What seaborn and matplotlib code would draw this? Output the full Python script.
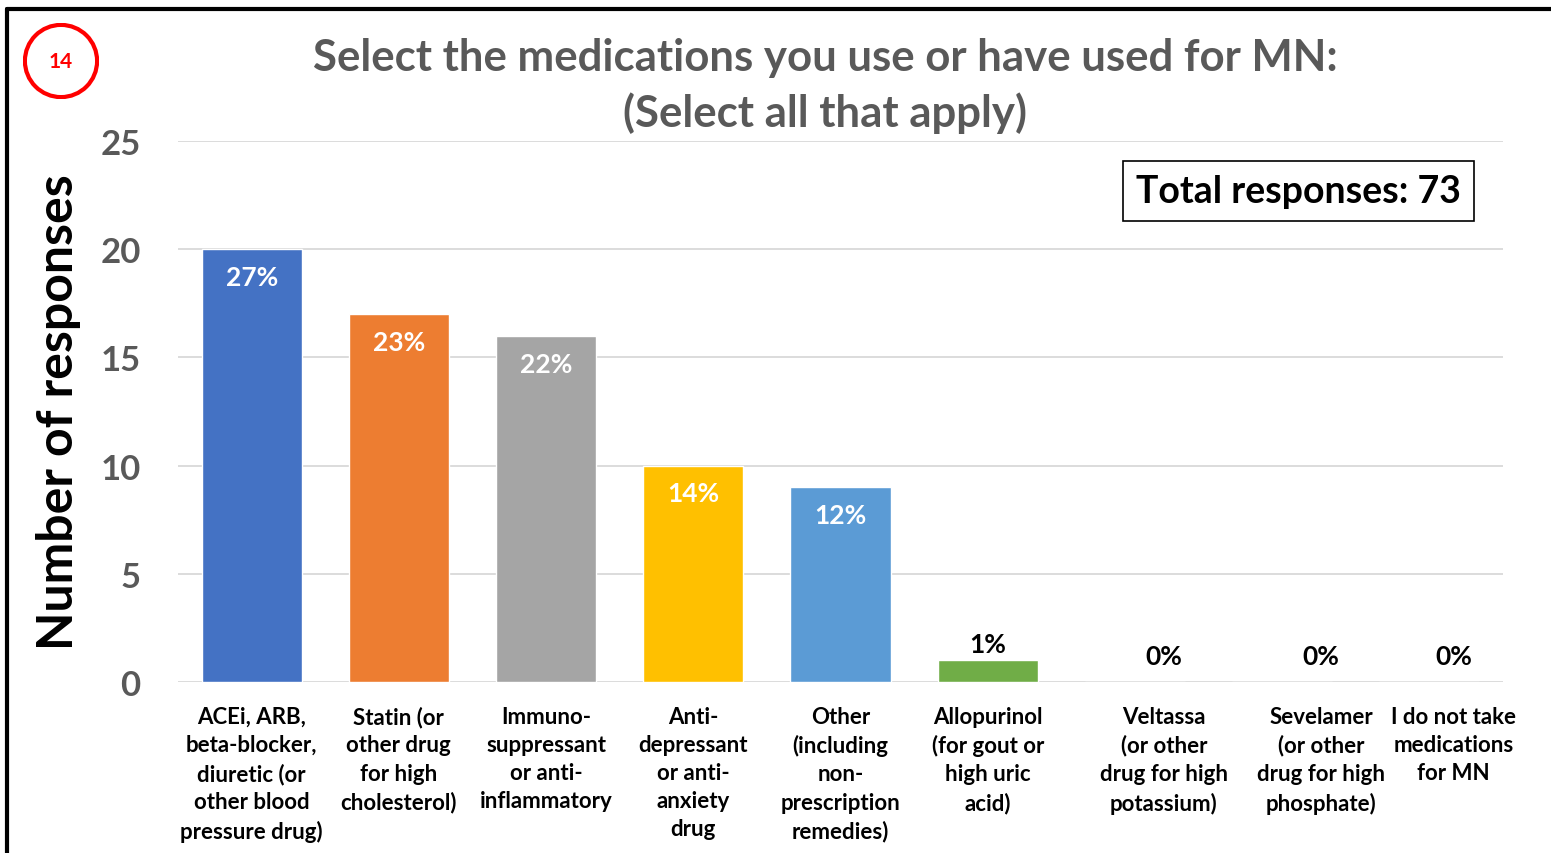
import matplotlib
matplotlib.use("Agg")
import matplotlib.pyplot as plt
import matplotlib.transforms as mtransforms
from matplotlib.patches import Circle
import seaborn as sns
import pandas as pd

categories = [
    "ACEi, ARB,\nbeta-blocker,\ndiuretic (or\nother blood\npressure drug)",
    "Statin (or\nother drug\nfor high\ncholesterol)",
    "Immuno-\nsuppressant\nor anti-\ninflammatory",
    "Anti-\ndepressant\nor anti-\nanxiety\ndrug",
    "Other\n(including\nnon-\nprescription\nremedies)",
    "Allopurinol\n(for gout or\nhigh uric\nacid)",
    "Veltassa\n(or other\ndrug for high\npotassium)",
    "Sevelamer\n(or other\ndrug for high\nphosphate)",
    "I do not take\nmedications\nfor MN",
]
responses = [20, 17, 16, 10, 9, 1, 0, 0, 0]
pct_labels = ["27%", "23%", "22%", "14%", "12%", "1%", "0%", "0%", "0%"]
colors = ["#4472C4", "#ED7D31", "#A5A5A5", "#FFC000", "#5B9BD5", "#70AD47",
          "#4472C4", "#ED7D31", "#A5A5A5"]
yticks = [0, 5, 10, 15, 20, 25]
title = "Select the medications you use or have used for MN:\n(Select all that apply)"
total_text = "Total responses: 73"
badge = "14"

sns.set_theme(style="white")
plt.rcParams["font.family"] = ["Lato", "DejaVu Sans"]

df = pd.DataFrame({"cat": categories, "n": responses})

fig = plt.figure(figsize=(15.51, 8.54), dpi=100)
ax = fig.add_axes([0.1148, 0.2002, 0.969 - 0.1148, 0.8337 - 0.2002])

sns.barplot(data=df, x="cat", y="n", hue="cat", palette=colors, legend=False,
            width=0.68, ax=ax, saturation=1)

ax.set_ylim(0, 25)
ax.set_yticks(yticks)
ax.set_xlim(-0.5, len(categories) - 0.5)
ax.yaxis.grid(True, color="#D9D9D9", linewidth=1.3)
ax.set_axisbelow(True)
for s in ax.spines.values():
    s.set_visible(False)
ax.tick_params(axis="y", length=0, pad=27, labelsize=25, labelcolor="#595959")
ax.tick_params(axis="x", length=0, pad=17, labelsize=16, labelcolor="black")
for t in ax.get_yticklabels():
    t.set_fontweight("bold")
x_offsets = [0, 0, 0, 0, 0, 0, 29, 39, 24]
for t, dx in zip(ax.get_xticklabels(), x_offsets):
    t.set_fontweight("bold")
    t.set_linespacing(1.42)
    if dx:
        t.set_transform(t.get_transform() + mtransforms.ScaledTranslation(dx / 100, 0, fig.dpi_scale_trans))
ax.set_xlabel("")
ax.set_ylabel("Number of responses", fontsize=36, fontweight="bold", color="black", labelpad=14)

for i, (v, lab) in enumerate(zip(responses, pct_labels)):
    if v >= 5:
        ax.annotate(lab, (i, v), xytext=(0, -20), textcoords="offset points",
                    ha="center", va="center", color="white", fontsize=19, fontweight="bold")
    else:
        ax.annotate(lab, (i + x_offsets[i] / 147.2, v), xytext=(0, 12 if v > 0 else 19),
                    textcoords="offset points", ha="center", va="center",
                    color="black", fontsize=19, fontweight="bold")

fig.text(0.532, 0.899, title, ha="center", va="center", fontsize=31.5, fontweight="bold",
         color="#595959", linespacing=1.42)

fig.text(0.837, 0.775, total_text, ha="center", va="center", fontsize=27, fontweight="bold",
         color="black",
         bbox=dict(boxstyle="square,pad=0.35", facecolor="white", edgecolor="black", linewidth=1.2))

# badge
badge_ax = fig.add_axes([(61 - 38) / 1551, 1 - (62 + 38) / 854, 76 / 1551, 76 / 854])
badge_ax.set_xlim(-1, 1)
badge_ax.set_ylim(-1, 1)
badge_ax.axis("off")
badge_ax.add_patch(Circle((0, 0), 0.95, fill=False, edgecolor="#FF0000", linewidth=3))
badge_ax.text(0, 0, badge, ha="center", va="center", color="#FF0000", fontsize=15, fontweight="bold")

# frame of the screenshot
fig.add_artist(plt.Line2D([7 / 1551, 1], [1 - 10 / 854, 1 - 10 / 854], color="black",
                          linewidth=3, transform=fig.transFigure))
fig.add_artist(plt.Line2D([7 / 1551, 7 / 1551], [0, 1 - 10 / 854], color="black",
                          linewidth=3, transform=fig.transFigure))

fig.savefig("out.png", dpi=100, facecolor="white")
